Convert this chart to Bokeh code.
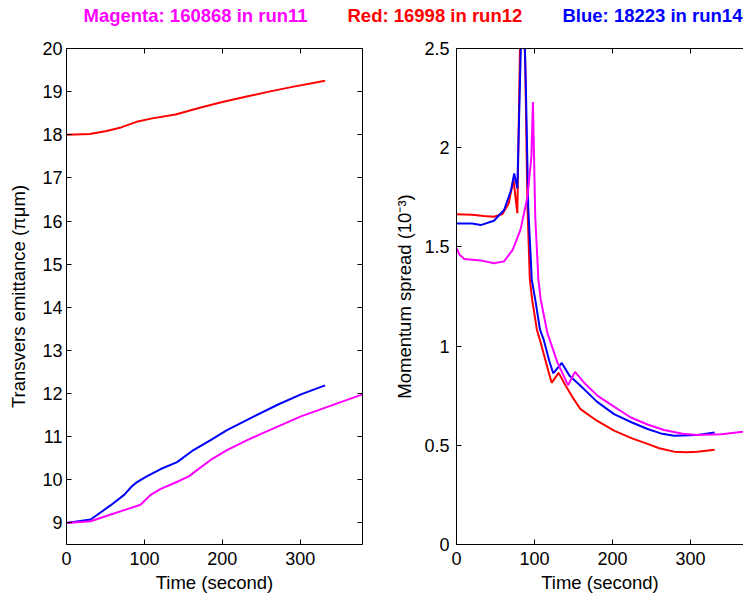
from bokeh.plotting import figure
from bokeh.models import Range1d, LinearAxis, FixedTicker, ColumnDataSource
from bokeh.layouts import column, row
from bokeh.embed import file_html
from bokeh.resources import INLINE
from bokeh.core.properties import value

# ---------------- data ----------------
# Left panel: transverse emittance (pi um) vs time (s)
t_emit_red = [0, 30, 50, 70, 90, 110, 140, 170, 200, 230, 260, 290, 332]
emit_red = [18.00, 18.02, 18.08, 18.17, 18.30, 18.38, 18.47, 18.62, 18.76, 18.88, 19.00, 19.11, 19.25]

t_emit_blue = [0, 31, 56, 74, 84, 90, 103, 121, 142, 163, 185, 206, 232, 271, 301, 332]
emit_blue = [9.00, 9.08, 9.40, 9.65, 9.85, 9.94, 10.08, 10.25, 10.41, 10.69, 10.92, 11.15,
             11.39, 11.74, 11.98, 12.19]

t_emit_mag = [0, 31, 56, 78, 95, 108, 121, 138, 157, 168, 185, 206, 232, 249, 301, 344, 380]
emit_mag = [9.00, 9.04, 9.19, 9.32, 9.42, 9.65, 9.79, 9.92, 10.08, 10.23, 10.46, 10.69,
            10.92, 11.06, 11.47, 11.75, 11.98]

# Right panel: momentum spread (1e-3) vs time (s)
t_dp_red = [0, 20, 35, 48, 59, 67, 73, 78, 83, 88, 91, 94, 97, 103, 108, 116, 122, 131,
            140, 150, 159, 180, 202, 225, 245, 260, 279, 295, 309, 331]
dp_red = [1.665, 1.662, 1.656, 1.652, 1.666, 1.72, 1.84, 1.67, 2.9, 2.45, 1.7, 1.34, 1.234,
          1.084, 1.017, 0.90, 0.815, 0.865, 0.80, 0.735, 0.682, 0.624, 0.574, 0.535, 0.507,
          0.485, 0.468, 0.465, 0.468, 0.477]

t_dp_blue = [0, 20, 31, 48, 61, 70, 74, 78, 85, 89, 92, 96.5, 101, 107, 112, 119, 124, 135,
             145, 159, 180, 202, 225, 245, 262, 279, 309, 331]
dp_blue = [1.618, 1.618, 1.61, 1.632, 1.686, 1.786, 1.87, 1.795, 2.9, 2.3, 1.7, 1.335, 1.234,
           1.084, 1.03, 0.925, 0.863, 0.915, 0.85, 0.80, 0.72, 0.657, 0.615, 0.582, 0.56,
           0.548, 0.552, 0.565]

t_dp_mag = [0, 4, 10, 31, 48, 61, 72, 82, 91, 96, 98, 101, 105, 108, 116.5, 129.5, 143, 152,
            165, 181, 200, 223.5, 245, 266, 290, 309, 340, 367, 380]
dp_mag = [1.494, 1.46, 1.439, 1.432, 1.418, 1.427, 1.485, 1.586, 1.753, 1.953, 2.23, 1.65,
          1.335, 1.234, 1.067, 0.917, 0.803, 0.870, 0.81, 0.749, 0.70, 0.64, 0.605, 0.577,
          0.558, 0.552, 0.556, 0.568, 0.575]

x_ticks = [0, 100, 200, 300]
emit_ticks = list(range(9, 21))
dp_ticks = [0, 0.5, 1, 1.5, 2, 2.5]
dp_tick_labels = ["0", "0.5", "1", "1.5", "2", "2.5"]

title_texts = ["Magenta: 160868 in run11", "Red: 16998 in run12", "Blue: 18223 in run14"]
title_colors = ["#FF00FF", "#FF0000", "#0000FF"]
title_x = [83, 347, 562]

MAG, RED, BLUE = "#FF00FF", "#FF0000", "#0000FF"
FONT = "Liberation Sans"
TICK_SIZE = "18px"
LABEL_SIZE = "18.5px"
LW = 2

TOTAL_W = 743
TITLE_H = 38
H = 557
W1 = 390


def style_axis(ax, show_labels=True, standoff=4):
    ax.axis_line_color = "black"
    ax.axis_line_width = 1
    ax.major_tick_in = 5
    ax.major_tick_out = 0
    ax.major_tick_line_color = "black"
    ax.minor_tick_line_color = None
    ax.major_label_text_font = FONT
    ax.axis_label_text_font = FONT
    ax.axis_label_text_font_style = "normal"
    ax.axis_label_text_font_size = LABEL_SIZE
    ax.axis_label_text_color = "black"
    if show_labels:
        ax.major_label_text_color = "black"
        ax.major_label_text_font_size = TICK_SIZE
        ax.major_label_standoff = standoff
    else:
        ax.major_label_text_color = None
        ax.major_label_text_font_size = "1px"
        ax.major_label_standoff = 0


def base_fig(width, height, x_end, y_start, y_end, ml, mr):
    p = figure(width=width, height=height, x_range=Range1d(0, x_end),
               y_range=Range1d(y_start, y_end), toolbar_location=None,
               output_backend="svg", min_border_left=ml, min_border_right=mr,
               min_border_top=10, min_border_bottom=height - 10 - 497)
    p.xgrid.visible = False
    p.ygrid.visible = False
    p.outline_line_color = None
    p.background_fill_color = "white"
    p.border_fill_color = "white"
    return p


# ---------------- title strip ----------------
pt = figure(width=TOTAL_W, height=TITLE_H, x_range=Range1d(0, TOTAL_W),
            y_range=Range1d(0, TITLE_H), toolbar_location=None, output_backend="svg",
            min_border=0)
pt.axis.visible = False
pt.xgrid.visible = False
pt.ygrid.visible = False
pt.outline_line_color = None
src_t = ColumnDataSource(dict(x=title_x, y=[TITLE_H - 15] * 3, text=title_texts,
                              color=title_colors))
pt.text(x="x", y="y", text="text", text_color="color", source=src_t,
        text_font=value(FONT), text_font_style="bold", text_font_size="18.5px",
        text_baseline="alphabetic", text_align="left")

# ---------------- left panel ----------------
p1 = base_fig(W1, H, 380, 8.5, 20, 66, 28)
p1.line(t_emit_red, emit_red, line_color=RED, line_width=LW)
p1.line(t_emit_blue, emit_blue, line_color=BLUE, line_width=LW)
p1.line(t_emit_mag, emit_mag, line_color=MAG, line_width=LW)

p1.xaxis[0].ticker = FixedTicker(ticks=x_ticks)
p1.yaxis[0].ticker = FixedTicker(ticks=emit_ticks)
p1.xaxis[0].axis_label = "Time (second)"
p1.yaxis[0].axis_label = "Transvers emittance (πμm)"
style_axis(p1.xaxis[0], True, 7)
style_axis(p1.yaxis[0], True, 4)
p1.xaxis[0].axis_label_standoff = 4
p1.yaxis[0].axis_label_standoff = 10
top1 = LinearAxis(ticker=FixedTicker(ticks=x_ticks))
style_axis(top1, False)
p1.add_layout(top1, "above")
right1 = LinearAxis(ticker=FixedTicker(ticks=emit_ticks))
style_axis(right1, False)
p1.add_layout(right1, "right")

# ---------------- right panel ----------------
p2 = base_fig(TOTAL_W - W1, H, 368, 0, 2.5, 66, 0)
p2.line(t_dp_red, dp_red, line_color=RED, line_width=LW)
p2.line(t_dp_blue, dp_blue, line_color=BLUE, line_width=LW)
p2.line(t_dp_mag, dp_mag, line_color=MAG, line_width=LW)

p2.xaxis[0].ticker = FixedTicker(ticks=x_ticks)
p2.yaxis[0].ticker = FixedTicker(ticks=dp_ticks)
p2.yaxis[0].major_label_overrides = {t: s for t, s in zip(dp_ticks, dp_tick_labels)}
p2.xaxis[0].axis_label = "Time (second)"
p2.yaxis[0].axis_label = "Momentum spread (10⁻³)"
style_axis(p2.xaxis[0], True, 7)
style_axis(p2.yaxis[0], True, 7)
p2.xaxis[0].axis_label_standoff = 4
p2.yaxis[0].axis_label_standoff = 6
top2 = LinearAxis(ticker=FixedTicker(ticks=x_ticks))
style_axis(top2, False)
p2.add_layout(top2, "above")

layout = column(pt, row(p1, p2, spacing=0), spacing=0)

open("out.html", "w").write(file_html(layout, INLINE))
